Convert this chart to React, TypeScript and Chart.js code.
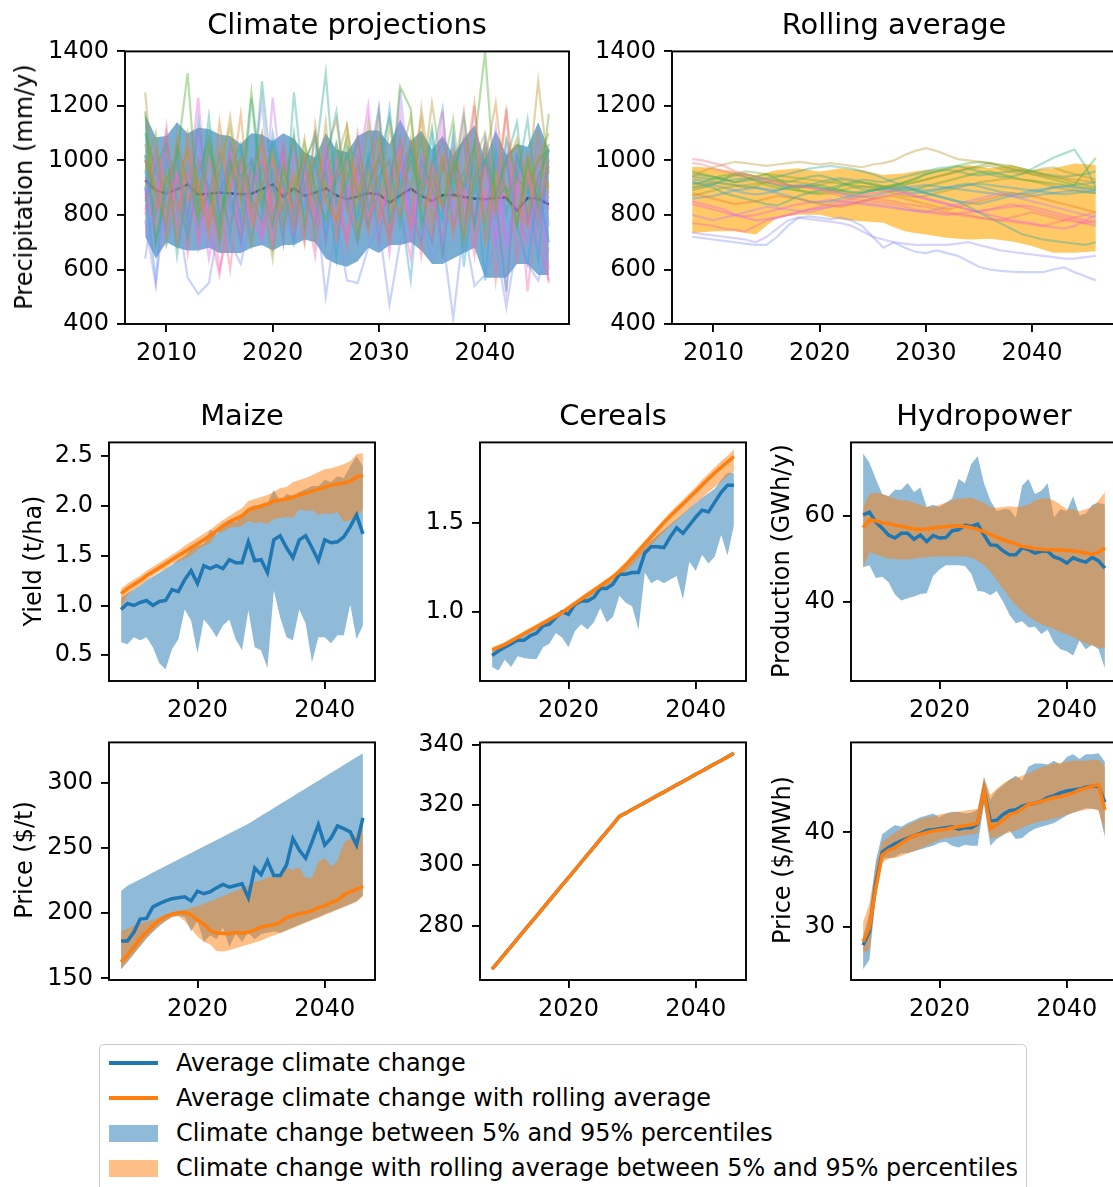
import React, { useEffect, useRef } from "react";
import { Chart, registerables } from "chart.js";

Chart.register(...registerables);

const FONT = '"DejaVu Sans", sans-serif';

// ---------- x values ----------
const years = [2008, 2009, 2010, 2011, 2012, 2013, 2014, 2015, 2016, 2017, 2018, 2019, 2020, 2021, 2022, 2023, 2024, 2025, 2026, 2027, 2028, 2029, 2030, 2031, 2032, 2033, 2034, 2035, 2036, 2037, 2038, 2039, 2040, 2041, 2042, 2043, 2044, 2045, 2046];

// ---------- tick labels ----------
const yearTicksTop = [2010, 2020, 2030, 2040];
const yearTicksBottom = [2020, 2040];
const precipTicks = [400, 600, 800, 1000, 1200, 1400];
const maizeYieldTicks = [0.5, 1.0, 1.5, 2.0, 2.5];
const cerealYieldTicks = [1.0, 1.5];
const hydroProdTicks = [40, 60];
const maizePriceTicks = [150, 200, 250, 300];
const cerealPriceTicks = [280, 300, 320, 340];
const hydroPriceTicks = [30, 40];

// ---------- climate projections (precipitation, mm/y) ----------
const projection01 = [880, 760, 1050, 820, 950, 700, 1000, 860, 600, 940, 780, 1080, 700, 900, 820, 1010, 750, 880, 960, 680, 1050, 790, 870, 720, 1000, 900, 650, 980, 830, 760, 1100, 700, 890, 800, 1190, 620, 950, 780, 1010];
const projection02 = [1000, 900, 780, 1090, 850, 930, 720, 1050, 880, 1170, 760, 900, 1010, 820, 950, 700, 1130, 860, 780, 1000, 920, 740, 1060, 880, 800, 1080, 940, 720, 1020, 860, 950, 1210, 780, 900, 1180, 840, 760, 1020, 880];
const projection03 = [1250, 820, 960, 700, 1040, 880, 760, 990, 1120, 850, 690, 960, 1040, 760, 900, 1080, 820, 1140, 700, 1120, 860, 960, 780, 1130, 880, 760, 1190, 900, 830, 1000, 720, 940, 1060, 820, 980, 1080, 900, 1290, 950];
const projection04 = [960, 1100, 700, 900, 1040, 780, 1070, 690, 940, 1010, 820, 880, 640, 990, 760, 900, 1010, 850, 780, 960, 820, 1140, 870, 700, 1000, 1160, 820, 880, 1010, 740, 920, 1060, 700, 960, 880, 780, 1020, 860, 920];
const projection05 = [1180, 700, 930, 1010, 1320, 800, 880, 720, 1000, 860, 1250, 900, 760, 980, 820, 1060, 900, 780, 950, 1080, 720, 900, 1010, 850, 1270, 1190, 760, 950, 840, 1000, 700, 1060, 1400, 860, 900, 760, 1000, 840, 1170];
const projection06 = [1000, 880, 760, 1060, 920, 840, 1160, 780, 960, 1060, 840, 1290, 900, 820, 1100, 760, 1000, 1320, 840, 920, 1080, 820, 940, 1000, 760, 1060, 900, 1120, 820, 960, 1080, 760, 1020, 880, 1000, 1140, 780, 940, 1040];
const projection07 = [850, 980, 1060, 650, 920, 790, 1040, 880, 1000, 780, 1230, 850, 960, 700, 1250, 880, 760, 1000, 1180, 840, 700, 980, 1190, 780, 880, 1000, 850, 1090, 640, 1000, 900, 1060, 760, 1040, 880, 930, 1150, 800, 1000];
const projection08 = [1020, 700, 880, 1000, 760, 1150, 840, 960, 720, 1040, 860, 780, 1100, 920, 700, 1000, 850, 960, 640, 1050, 1010, 760, 880, 1190, 840, 560, 1000, 900, 780, 1100, 610, 940, 1000, 850, 520, 1010, 900, 760, 980];
const projection09 = [900, 560, 1000, 860, 720, 940, 1080, 800, 880, 700, 1000, 900, 1060, 760, 900, 820, 1090, 700, 960, 860, 780, 1010, 860, 720, 940, 1060, 800, 700, 1000, 880, 960, 760, 1080, 860, 1010, 760, 620, 900, 700];
const projection10 = [640, 900, 690, 820, 570, 510, 550, 780, 700, 620, 800, 860, 760, 820, 700, 740, 880, 500, 780, 560, 550, 680, 760, 470, 700, 820, 780, 640, 720, 420, 760, 540, 580, 700, 460, 700, 620, 560, 680];
const projection11 = [780, 540, 900, 760, 1040, 680, 880, 960, 760, 1010, 820, 700, 1230, 880, 770, 930, 800, 1010, 720, 940, 860, 780, 1010, 880, 1180, 760, 900, 820, 1100, 770, 900, 1010, 840, 1120, 660, 900, 780, 980, 600];
const projection12 = [860, 1000, 720, 950, 800, 1100, 760, 880, 1020, 690, 900, 1000, 800, 1060, 720, 900, 780, 1040, 840, 700, 940, 1200, 780, 900, 1060, 720, 960, 880, 700, 1010, 850, 790, 1060, 700, 1010, 820, 700, 940, 820];
const projection13 = [940, 820, 1120, 700, 880, 1230, 760, 580, 900, 1000, 780, 720, 960, 700, 1020, 860, 650, 980, 780, 900, 700, 880, 1190, 720, 830, 640, 1020, 920, 660, 1000, 780, 1200, 700, 880, 520, 920, 1020, 700, 560];
const projection14 = [800, 1050, 870, 940, 660, 1000, 880, 700, 1050, 860, 950, 720, 880, 1020, 760, 960, 860, 700, 1000, 820, 1100, 860, 700, 1000, 900, 780, 1000, 840, 1180, 720, 900, 650, 980, 860, 880, 1000, 520, 860, 550];
const projection15 = [1020, 880, 940, 760, 1100, 900, 800, 1140, 860, 720, 980, 1050, 820, 900, 1080, 760, 940, 1020, 1150, 860, 740, 1000, 920, 820, 1080, 960, 1150, 780, 900, 1040, 880, 760, 1000, 1210, 860, 940, 800, 1100, 900];
const projection16 = [900, 1040, 820, 980, 700, 960, 1080, 880, 760, 1000, 900, 1100, 780, 960, 880, 1020, 700, 940, 1060, 820, 980, 880, 1150, 760, 1000, 900, 1080, 820, 960, 1150, 780, 920, 1040, 860, 1000, 760, 980, 900, 1060];
const projection17 = [1100, 960, 880, 1040, 800, 1000, 900, 760, 1060, 940, 1000, 820, 1060, 900, 760, 980, 1100, 860, 920, 1020, 880, 760, 1000, 1160, 900, 1040, 860, 980, 1070, 900, 1160, 880, 1000, 800, 1080, 940, 880, 1000, 1040];
const projection18 = [960, 800, 1060, 900, 980, 760, 880, 1020, 820, 940, 700, 980, 880, 1040, 800, 900, 1000, 720, 1060, 900, 800, 1020, 700, 940, 1080, 820, 700, 1000, 1190, 760, 900, 980, 560, 1000, 800, 1020, 900, 640, 1040];
const projection19 = [820, 960, 760, 900, 1000, 700, 940, 820, 1060, 760, 900, 1220, 760, 920, 860, 700, 980, 820, 760, 1000, 880, 720, 960, 820, 1260, 880, 700, 940, 820, 1080, 760, 960, 860, 700, 1060, 820, 940, 1080, 760];
const projection20 = [900, 700, 840, 1000, 760, 920, 640, 880, 980, 760, 1000, 880, 680, 1000, 820, 920, 760, 1040, 700, 880, 960, 760, 900, 660, 1000, 760, 880, 700, 1000, 840, 720, 960, 820, 1000, 700, 900, 760, 880, 700];
const projection21 = [1000, 860, 760, 940, 1040, 820, 900, 600, 760, 980, 860, 760, 1000, 880, 720, 940, 800, 980, 860, 720, 1000, 900, 780, 940, 1040, 760, 880, 1000, 820, 940, 1180, 780, 1000, 560, 900, 1020, 760, 940, 860];
const projection22 = [1060, 900, 1100, 820, 960, 880, 1060, 920, 1160, 880, 960, 1000, 860, 1060, 900, 1000, 1080, 900, 1000, 1130, 880, 1000, 1080, 900, 1040, 1000, 900, 1210, 960, 1040, 900, 1000, 1100, 900, 1000, 1060, 920, 1000, 1100];
const projectionMean = [928, 890, 878, 895, 912, 875, 878, 882, 880, 876, 878, 895, 912, 868, 898, 870, 882, 898, 872, 858, 868, 880, 876, 845, 872, 896, 870, 852, 872, 874, 866, 860, 858, 862, 864, 815, 862, 860, 838];
const projectionUpper = [1170, 1085, 1090, 1140, 1100, 1120, 1115, 1095, 1090, 1060, 1100, 1095, 1070, 1100, 1080, 1030, 1010, 1100, 1040, 1030, 1090, 1110, 1110, 1060, 1150, 1070, 1110, 1040, 1090, 1020, 1080, 1130, 1000, 1110, 1020, 1060, 1050, 1140, 1040];
const projectionLower = [720, 640, 700, 680, 670, 670, 680, 660, 660, 660, 680, 690, 670, 690, 690, 710, 700, 640, 620, 610, 630, 680, 660, 690, 690, 700, 670, 620, 620, 640, 660, 680, 570, 570, 570, 620, 620, 580, 580];

// ---------- rolling average projections ----------
const rolling01 = [1005, 1000, 990, 980, 960, 950, 940, 930, 920, 910, 905, 900, 895, 890, 880, 875, 870, 860, 855, 850, 840, 835, 830, 820, 810, 805, 800, 790, 785, 780, 790, 800, 810, 800, 790, 780, 775, 770, 780];
const rolling02 = [880, 870, 860, 850, 840, 845, 850, 860, 870, 865, 860, 850, 840, 835, 830, 840, 850, 860, 865, 870, 860, 850, 840, 830, 820, 830, 840, 850, 860, 870, 880, 875, 870, 860, 850, 840, 830, 820, 810];
const rolling03 = [940, 960, 975, 985, 995, 990, 985, 980, 985, 990, 995, 990, 985, 990, 985, 980, 975, 985, 990, 1000, 1020, 1035, 1045, 1035, 1020, 1005, 1000, 995, 990, 980, 970, 960, 950, 945, 940, 935, 930, 925, 920];
const rolling04 = [900, 910, 920, 915, 910, 900, 905, 920, 930, 925, 920, 915, 910, 920, 930, 925, 920, 910, 905, 900, 910, 920, 930, 940, 950, 960, 970, 975, 980, 970, 960, 950, 960, 970, 975, 960, 950, 940, 930];
const rolling05 = [960, 950, 940, 930, 920, 930, 940, 950, 930, 910, 900, 905, 910, 900, 890, 880, 885, 890, 900, 910, 920, 930, 950, 960, 970, 980, 990, 995, 990, 980, 970, 960, 950, 940, 930, 920, 910, 960, 1010];
const rolling06 = [920, 910, 900, 880, 870, 860, 850, 840, 835, 850, 870, 880, 890, 900, 910, 920, 930, 925, 920, 930, 940, 950, 960, 970, 975, 980, 970, 960, 950, 940, 940, 950, 970, 990, 1010, 1025, 1040, 980, 900];
const rolling07 = [950, 945, 940, 930, 920, 925, 930, 935, 940, 950, 960, 970, 975, 980, 975, 970, 960, 950, 935, 920, 905, 890, 880, 870, 860, 850, 830, 810, 790, 770, 750, 730, 720, 710, 705, 700, 695, 690, 700];
const rolling08 = [930, 925, 920, 915, 910, 905, 900, 895, 890, 900, 910, 905, 900, 895, 890, 885, 880, 890, 900, 905, 900, 895, 890, 895, 900, 905, 910, 915, 910, 905, 900, 895, 890, 885, 880, 875, 880, 885, 890];
const rolling09 = [860, 865, 870, 880, 890, 895, 900, 890, 880, 870, 860, 850, 845, 850, 860, 870, 880, 890, 895, 900, 895, 890, 880, 870, 860, 850, 845, 840, 850, 860, 870, 880, 890, 895, 900, 905, 900, 895, 890];
const rolling10 = [720, 715, 710, 705, 700, 695, 690, 690, 720, 760, 790, 795, 790, 785, 790, 780, 760, 720, 680, 700, 680, 665, 660, 670, 660, 650, 630, 610, 600, 595, 592, 590, 590, 590, 600, 608, 590, 575, 560];
const rolling11 = [735, 730, 725, 720, 715, 710, 700, 720, 750, 780, 790, 785, 780, 775, 770, 760, 740, 720, 710, 700, 695, 690, 690, 690, 690, 695, 700, 690, 680, 670, 665, 660, 655, 650, 645, 640, 640, 645, 650];
const rolling12 = [800, 790, 780, 790, 800, 810, 820, 830, 825, 820, 815, 810, 820, 830, 840, 850, 845, 840, 835, 830, 820, 815, 810, 820, 830, 840, 850, 860, 870, 880, 870, 860, 850, 840, 830, 820, 810, 800, 790];
const rolling13 = [850, 840, 830, 820, 800, 790, 780, 785, 790, 800, 810, 820, 825, 830, 835, 840, 850, 860, 870, 875, 880, 870, 860, 850, 840, 830, 820, 810, 800, 790, 780, 775, 770, 760, 755, 750, 760, 780, 800];
const rolling14 = [770, 765, 760, 750, 745, 740, 760, 780, 790, 800, 810, 820, 830, 840, 850, 860, 870, 880, 885, 890, 880, 870, 860, 850, 840, 830, 820, 810, 820, 830, 840, 830, 820, 810, 800, 790, 780, 770, 760];
const rolling15 = [990, 985, 970, 960, 950, 940, 930, 920, 915, 910, 905, 900, 890, 880, 870, 860, 855, 850, 845, 840, 830, 820, 815, 810, 805, 800, 795, 790, 785, 780, 775, 770, 765, 760, 770, 780, 790, 800, 810];
const rolling16 = [890, 900, 910, 930, 950, 960, 955, 950, 945, 940, 935, 930, 925, 920, 915, 910, 905, 900, 905, 910, 915, 920, 930, 940, 950, 960, 970, 980, 990, 985, 980, 970, 960, 950, 940, 930, 920, 910, 900];
const rolling17 = [940, 935, 930, 935, 945, 950, 940, 930, 925, 920, 930, 940, 945, 935, 920, 905, 895, 890, 895, 905, 920, 935, 950, 960, 965, 960, 950, 945, 950, 955, 960, 965, 960, 950, 945, 940, 945, 950, 960];
const rolling18 = [910, 920, 935, 945, 950, 940, 925, 910, 900, 895, 890, 885, 880, 890, 905, 915, 920, 915, 905, 895, 890, 895, 905, 915, 925, 935, 945, 955, 960, 950, 940, 930, 925, 920, 915, 910, 905, 900, 895];
const rolling19 = [900, 905, 915, 925, 930, 935, 930, 920, 910, 905, 900, 910, 920, 930, 935, 930, 920, 910, 900, 890, 885, 880, 885, 890, 900, 910, 915, 905, 895, 885, 880, 875, 880, 890, 900, 905, 910, 915, 920];
const rolling20 = [870, 880, 890, 900, 905, 910, 915, 920, 910, 900, 890, 880, 875, 880, 890, 900, 905, 900, 890, 880, 870, 865, 870, 880, 890, 900, 910, 920, 925, 930, 935, 930, 925, 915, 905, 895, 890, 885, 880];
const rolling21 = [840, 830, 820, 810, 800, 795, 800, 810, 820, 830, 840, 845, 850, 855, 850, 845, 840, 835, 830, 825, 820, 815, 810, 805, 800, 805, 810, 815, 820, 825, 830, 835, 830, 820, 810, 800, 790, 780, 770];
const rolling22 = [920, 915, 910, 900, 890, 880, 875, 880, 890, 900, 905, 910, 900, 890, 880, 870, 865, 870, 880, 890, 900, 905, 910, 905, 900, 895, 890, 885, 880, 875, 870, 865, 870, 875, 880, 885, 890, 885, 880];
const rollingUpper = [977, 975, 971, 965, 959, 952, 947, 955, 965, 968, 971, 965, 959, 965, 971, 968, 965, 955, 947, 950, 953, 960, 965, 968, 971, 978, 983, 977, 971, 977, 983, 974, 965, 968, 971, 980, 989, 986, 983];
const rollingLower = [734, 737, 740, 740, 740, 734, 728, 760, 789, 795, 801, 801, 801, 792, 783, 780, 777, 774, 771, 755, 740, 734, 728, 722, 716, 713, 710, 711, 713, 708, 704, 695, 686, 673, 661, 661, 661, 664, 667];

// ---------- maize yield (t/ha) ----------
const maizeYieldMean = [0.96, 1.02, 1.0, 1.03, 1.05, 1.0, 1.04, 1.05, 1.16, 1.14, 1.26, 1.35, 1.22, 1.4, 1.37, 1.4, 1.37, 1.46, 1.43, 1.43, 1.64, 1.45, 1.46, 1.33, 1.66, 1.7, 1.58, 1.48, 1.66, 1.7, 1.58, 1.45, 1.66, 1.63, 1.64, 1.69, 1.79, 1.91, 1.72];
const maizeYieldRolling = [1.12, 1.17, 1.21, 1.25, 1.3, 1.34, 1.38, 1.42, 1.46, 1.5, 1.54, 1.58, 1.62, 1.66, 1.7, 1.75, 1.8, 1.84, 1.87, 1.9, 1.96, 1.98, 2.0, 2.02, 2.05, 2.06, 2.07, 2.09, 2.11, 2.13, 2.15, 2.17, 2.19, 2.21, 2.22, 2.23, 2.25, 2.29, 2.31];
const maizeYieldUpper = [1.08, 1.12, 1.16, 1.2, 1.25, 1.29, 1.33, 1.37, 1.41, 1.46, 1.5, 1.57, 1.6, 1.62, 1.76, 1.72, 1.79, 1.86, 1.84, 1.92, 1.98, 2.01, 2.0, 2.03, 2.16, 2.05, 2.12, 2.1, 2.14, 2.17, 2.2, 2.2, 2.26, 2.24, 2.3, 2.28, 2.4, 2.5, 2.4];
const maizeYieldLower = [0.63, 0.61, 0.68, 0.65, 0.68, 0.58, 0.42, 0.36, 0.56, 0.66, 0.96, 0.85, 0.52, 0.86, 0.78, 0.68, 0.8, 0.86, 0.66, 0.55, 0.95, 0.58, 0.55, 0.37, 1.15, 0.88, 0.68, 0.65, 0.96, 0.82, 0.43, 0.68, 0.68, 0.62, 0.7, 0.7, 1.01, 0.66, 0.8];
const maizeYieldRollUpper = [1.17, 1.22, 1.26, 1.3, 1.35, 1.39, 1.43, 1.47, 1.51, 1.55, 1.6, 1.64, 1.68, 1.72, 1.76, 1.81, 1.86, 1.9, 1.94, 1.98, 2.05, 2.07, 2.09, 2.11, 2.14, 2.18, 2.19, 2.24, 2.26, 2.28, 2.31, 2.34, 2.37, 2.38, 2.4, 2.42, 2.45, 2.52, 2.53];
const maizeYieldRollLower = [0.97, 1.1, 1.16, 1.2, 1.25, 1.3, 1.34, 1.37, 1.42, 1.44, 1.47, 1.5, 1.56, 1.6, 1.62, 1.73, 1.74, 1.78, 1.79, 1.8, 1.85, 1.83, 1.84, 1.82, 1.87, 1.88, 1.89, 1.88, 1.97, 1.95, 1.96, 1.91, 1.93, 1.92, 1.94, 1.84, 1.86, 1.9, 1.96];

// ---------- cereals yield (t/ha) ----------
const cerealYieldMean = [0.754, 0.78, 0.8, 0.82, 0.84, 0.84, 0.865, 0.88, 0.92, 0.93, 0.967, 1.0, 0.985, 1.04, 1.06, 1.06, 1.08, 1.13, 1.13, 1.155, 1.21, 1.21, 1.22, 1.22, 1.33, 1.365, 1.365, 1.36, 1.42, 1.47, 1.44, 1.485, 1.53, 1.57, 1.56, 1.615, 1.67, 1.71, 1.71];
const cerealYieldRolling = [0.785, 0.8, 0.815, 0.835, 0.855, 0.875, 0.895, 0.915, 0.935, 0.955, 0.975, 0.995, 1.02, 1.045, 1.07, 1.095, 1.12, 1.145, 1.17, 1.195, 1.225, 1.26, 1.3, 1.34, 1.38, 1.42, 1.46, 1.5, 1.535, 1.57, 1.605, 1.64, 1.675, 1.71, 1.745, 1.78, 1.81, 1.84, 1.87];
const cerealYieldUpper = [0.78, 0.795, 0.81, 0.83, 0.85, 0.87, 0.89, 0.91, 0.93, 0.95, 0.97, 0.99, 1.01, 1.04, 1.065, 1.09, 1.11, 1.135, 1.16, 1.18, 1.21, 1.25, 1.29, 1.33, 1.37, 1.4, 1.43, 1.46, 1.49, 1.52, 1.55, 1.58, 1.61, 1.64, 1.665, 1.69, 1.74, 1.78, 1.78];
const cerealYieldLower = [0.69, 0.67, 0.73, 0.69, 0.75, 0.74, 0.735, 0.735, 0.8, 0.82, 0.88, 0.855, 0.8, 0.89, 0.93, 0.9, 0.94, 1.02, 0.94, 0.97, 1.09, 1.05, 1.03, 0.9, 1.22, 1.16, 1.18, 1.16, 1.18, 1.2, 1.07, 1.28, 1.23, 1.32, 1.27, 1.31, 1.43, 1.315, 1.485];
const cerealYieldRollUpper = [0.8, 0.815, 0.83, 0.85, 0.87, 0.89, 0.91, 0.93, 0.95, 0.97, 0.99, 1.01, 1.035, 1.06, 1.085, 1.11, 1.135, 1.16, 1.185, 1.21, 1.245, 1.28, 1.32, 1.36, 1.4, 1.44, 1.48, 1.52, 1.56, 1.595, 1.63, 1.665, 1.7, 1.74, 1.775, 1.81, 1.845, 1.875, 1.91];
const cerealYieldRollLower = [0.775, 0.79, 0.805, 0.825, 0.845, 0.865, 0.885, 0.9, 0.92, 0.94, 0.96, 0.98, 1.0, 1.025, 1.05, 1.075, 1.1, 1.12, 1.145, 1.165, 1.19, 1.225, 1.26, 1.3, 1.335, 1.37, 1.41, 1.445, 1.48, 1.51, 1.545, 1.575, 1.61, 1.64, 1.67, 1.7, 1.73, 1.76, 1.79];

// ---------- hydropower production (GWh/y) ----------
const hydroProdMean = [60.2, 60.8, 58.5, 57.1, 55.5, 54.8, 55.9, 55.9, 54.5, 55.5, 54.0, 55.4, 54.8, 54.9, 56.5, 56.7, 57.8, 57.5, 58.0, 55.5, 53.2, 53.1, 51.8, 50.9, 50.9, 52.5, 52.1, 51.3, 51.7, 51.7, 50.4, 49.9, 49.0, 50.2, 49.6, 49.2, 50.3, 49.5, 47.8];
const hydroProdRolling = [57.2, 59.0, 58.8, 58.3, 58.2, 57.8, 57.5, 57.2, 56.9, 56.8, 56.9, 57.1, 57.3, 57.4, 57.6, 57.6, 57.5, 57.2, 56.8, 56.3, 55.6, 55.0, 54.4, 53.9, 53.4, 52.9, 52.6, 52.3, 52.2, 52.1, 52.1, 52.0, 51.9, 51.8, 51.6, 51.3, 51.0, 51.5, 52.5];
const hydroProdUpper = [74.4, 72.3, 68.5, 65.0, 64.5, 66.0, 66.0, 67.6, 65.5, 66.5, 62.0, 62.5, 62.0, 63.0, 64.0, 68.5, 67.5, 72.0, 73.8, 67.5, 63.5, 61.0, 61.5, 61.5, 59.5, 67.0, 68.5, 65.0, 65.8, 67.5, 59.5, 61.5, 61.0, 64.5, 60.0, 60.5, 62.5, 63.0, 62.5];
const hydroProdLower = [48.0, 48.5, 45.5, 45.8, 44.5, 41.7, 40.3, 40.8, 41.2, 41.8, 42.0, 46.0, 47.5, 48.5, 48.5, 48.5, 48.3, 46.5, 42.5, 42.3, 41.5, 42.5, 40.0, 37.0, 35.0, 35.5, 34.0, 34.2, 32.5, 33.5, 30.5, 29.0, 28.5, 27.5, 31.0, 29.0, 30.0, 29.0, 24.5];
const hydroProdRollUpper = [62.0, 65.0, 65.3, 65.0, 64.5, 64.0, 63.5, 63.5, 63.0, 62.5, 62.0, 62.0, 62.5, 63.0, 63.5, 64.0, 64.0, 64.2, 63.5, 63.0, 62.0, 61.8, 62.0, 62.2, 62.0, 62.2, 62.5, 63.5, 64.0, 64.0, 63.5, 62.5, 61.5, 61.5, 61.0, 61.5, 62.0, 63.5, 65.5];
const hydroProdRollLower = [48.0, 51.5, 51.0, 50.5, 50.0, 50.0, 49.8, 49.8, 50.0, 50.2, 50.3, 50.5, 50.5, 50.5, 50.5, 50.5, 50.5, 50.3, 49.5, 48.5, 47.0, 45.0, 43.0, 41.0, 39.2, 37.8, 36.6, 35.6, 34.8, 34.2, 33.6, 33.0, 32.4, 31.8, 31.0, 30.3, 29.8, 29.3, 29.3];

// ---------- maize price ($/t) ----------
const maizePriceMean = [178.5, 178.5, 185.3, 195.4, 195.9, 204.7, 207.2, 209.3, 211.0, 211.8, 212.5, 209.3, 216.8, 214.8, 216.3, 219.3, 221.9, 219.8, 221.1, 222.4, 211.8, 234.5, 229.4, 240.0, 228.7, 228.7, 237.0, 257.1, 248.3, 242.0, 254.6, 267.7, 252.1, 257.6, 266.7, 264.7, 262.2, 252.1, 273.0];
const maizePriceRolling = [162.6, 167.6, 173.9, 180.3, 185.3, 190.3, 194.6, 197.4, 199.2, 200.4, 200.4, 198.7, 194.6, 191.6, 186.6, 184.6, 184.6, 184.1, 185.3, 184.6, 185.3, 187.1, 189.1, 190.3, 191.1, 192.8, 196.6, 197.9, 199.6, 200.4, 201.7, 204.2, 205.5, 208.0, 209.8, 213.8, 216.3, 218.1, 220.6];
const maizePriceUpper = [217, 221, 223.5, 226, 228.5, 231, 233.5, 236, 238.5, 241, 243.5, 246, 248.5, 251, 253.5, 256, 258.5, 261, 263.5, 266, 268.5, 271.5, 274.5, 277.5, 280.5, 283.5, 286.5, 289.5, 292.5, 295.5, 298.5, 301.5, 304.5, 307.5, 310.5, 313.5, 316.5, 319.5, 322.5];
const maizePriceLower = [157, 162.5, 168.5, 174.5, 180.5, 185.5, 190, 194, 197, 198, 197, 186, 194, 178, 183, 180, 189, 174, 184, 178, 185, 180, 184, 185, 186, 185, 187, 189, 191, 193, 195, 197, 199, 201, 203, 205, 207, 209, 213.5];
const maizePriceRollUpper = [186, 188, 190, 192, 193.5, 195, 196.5, 198, 199.5, 201, 202.5, 204, 205.5, 207, 209, 211, 213, 215, 217, 219, 221, 224, 225, 227, 229, 230, 234.5, 233, 235, 227, 227, 239.5, 242, 235.5, 240, 253.5, 257, 260, 266];
const maizePriceRollLower = [157, 163, 169, 175, 181, 186, 190.5, 194, 197, 197.5, 194, 188, 182, 178, 176, 171, 170.5, 171.5, 173, 174.5, 176, 177.5, 179, 181, 183, 184.5, 186.5, 188.5, 190.5, 192.5, 194.5, 196.5, 198.5, 200.5, 202.5, 204.5, 206.5, 208.5, 213];

// ---------- cereals price ($/t) ----------
const cerealPrice = [265.5, 268.0, 270.6, 273.1, 275.6, 278.2, 280.7, 283.2, 285.8, 288.3, 290.8, 293.4, 295.9, 298.4, 301.0, 303.5, 306.0, 308.6, 311.1, 313.6, 316.2, 317.3, 318.5, 319.7, 320.8, 322.0, 323.2, 324.3, 325.5, 326.7, 327.8, 329.0, 330.2, 331.3, 332.5, 333.7, 334.8, 336.0, 337.2];

// ---------- hydropower price ($/MWh) ----------
const hydroPriceMean = [28.05, 29.5, 34.6, 37.9, 38.4, 38.8, 39.1, 39.4, 39.65, 39.9, 40.2, 40.3, 40.4, 40.5, 40.6, 40.35, 40.5, 40.5, 40.9, 44.4, 41.2, 41.3, 41.9, 42.3, 42.4, 42.8, 43.0, 43.1, 43.3, 43.7, 43.9, 44.2, 44.4, 44.5, 44.6, 44.8, 44.9, 44.9, 43.2];
const hydroPriceRolling = [28.4, 29.9, 34.1, 37.6, 38.1, 38.4, 38.85, 39.3, 39.65, 39.8, 40.0, 40.15, 40.25, 40.35, 40.5, 40.6, 40.7, 40.8, 41.0, 44.4, 40.4, 40.85, 41.3, 41.9, 42.1, 42.5, 43.0, 43.1, 43.3, 43.5, 43.7, 43.8, 44.0, 44.2, 44.5, 44.7, 44.9, 45.1, 42.4];
const hydroPriceUpper = [29.0, 31.5, 37.0, 39.8, 40.3, 40.8, 40.6, 41.0, 41.3, 41.6, 41.8, 42.0, 41.6, 42.0, 42.2, 42.2, 42.0, 42.1, 42.4, 45.9, 43.5, 44.5, 45.0, 45.6, 46.0, 45.5, 47.0, 47.3, 47.3, 47.2, 47.6, 47.2, 48.0, 48.3, 47.8, 48.3, 48.3, 48.4, 47.5];
const hydroPriceLower = [25.5, 26.5, 33.5, 37.2, 37.3, 37.4, 37.8, 37.8, 38.0, 38.2, 38.4, 38.6, 38.9, 39.0, 38.6, 38.4, 38.7, 38.6, 38.6, 43.0, 38.6, 39.3, 39.7, 40.2, 39.3, 39.4, 40.0, 40.4, 40.6, 40.8, 41.0, 41.4, 41.8, 42.1, 42.3, 42.6, 42.5, 42.4, 39.5];
const hydroPriceRollUpper = [30.5, 32.5, 36.5, 39.0, 39.5, 40.0, 40.4, 40.8, 41.1, 41.4, 41.6, 41.7, 41.9, 42.0, 42.1, 42.2, 42.3, 42.4, 42.5, 45.8, 44.0, 44.6, 45.2, 45.6, 45.8, 46.0, 46.3, 46.6, 46.9, 47.1, 47.3, 47.4, 47.5, 47.6, 47.6, 47.6, 47.7, 47.7, 47.0];
const hydroPriceRollLower = [27.2, 27.5, 33.0, 36.8, 37.2, 37.3, 37.5, 37.8, 38.0, 38.3, 38.6, 38.9, 39.2, 39.4, 39.5, 39.6, 39.7, 39.8, 39.9, 43.2, 39.3, 39.5, 39.8, 40.0, 40.2, 40.5, 40.8, 41.0, 41.2, 41.3, 41.5, 41.6, 41.9, 42.1, 42.3, 42.4, 42.5, 42.3, 40.0];

// ---------- groups & colours ----------
const projections = [projection01, projection02, projection03, projection04, projection05, projection06, projection07, projection08, projection09, projection10, projection11, projection12, projection13, projection14, projection15, projection16, projection17, projection18, projection19, projection20, projection21, projection22];
const projectionColors = ["#f77189", "#e68332", "#bb9832", "#97a431", "#50b131", "#34ae91", "#36ada4", "#38a9c5", "#3ba3ec", "#8197f4", "#c77af4", "#f45deb", "#f565cc", "#f66bad", "#dc8932", "#77ab31", "#33b07a", "#3aa5dc", "#a48cf4", "#e867f4", "#f7758f", "#ae9d31"];
const rollings = [rolling01, rolling02, rolling03, rolling04, rolling05, rolling06, rolling07, rolling08, rolling09, rolling10, rolling11, rolling12, rolling13, rolling14, rolling15, rolling16, rolling17, rolling18, rolling19, rolling20, rolling21, rolling22];
const rollingColors = ["#f77189", "#e68332", "#bb9832", "#97a431", "#50b131", "#34ae91", "#36ada4", "#38a9c5", "#3ba3ec", "#8197f4", "#a38ff4", "#c77af4", "#f45deb", "#f66bad", "#f7758f", "#77ab31", "#34ae91", "#50b131", "#38a9c5", "#97a431", "#f565cc", "#3ba3ec"];

const BLUE = "#1f77b4";
const ORANGE = "#ff7f0e";
const BLUE_BAND = "rgba(31,119,180,0.5)";
const ORANGE_BAND = "rgba(255,127,14,0.5)";

function alpha(hex: string, a: number) {
  const n = parseInt(hex.slice(1), 16);
  return `rgba(${(n >> 16) & 255},${(n >> 8) & 255},${n & 255},${a})`;
}

const pts = (arr: number[]) => years.map((x, i) => ({ x, y: arr[i] }));

function lineDs(arr: number[], color: string, width: number, order: number) {
  return { data: pts(arr), borderColor: color, borderWidth: width, pointRadius: 0, fill: false, order, tension: 0 };
}
function bandDs(list: any[], lower: number[], upper: number[], color: string, order: number) {
  list.push({ data: pts(lower), borderWidth: 0, borderColor: "rgba(0,0,0,0)", pointRadius: 0, fill: false, order });
  list.push({ data: pts(upper), borderWidth: 0, borderColor: "rgba(0,0,0,0)", pointRadius: 0, fill: "-1", backgroundColor: color, order });
}

function buildImpact(mean: number[], roll: number[], lo: number[], hi: number[], rlo: number[], rhi: number[]) {
  return () => {
    const ds: any[] = [];
    bandDs(ds, lo, hi, BLUE_BAND, 10);
    bandDs(ds, rlo, rhi, ORANGE_BAND, 9);
    ds.push(lineDs(mean, BLUE, 3.5, 2));
    ds.push(lineDs(roll, ORANGE, 3.5, 1));
    return ds;
  };
}

const buildProjections = () => {
  const ds: any[] = [];
  bandDs(ds, projectionLower, projectionUpper, "rgba(31,119,180,0.6)", 30);
  ds.push(lineDs(projectionMean, "rgba(20,70,120,0.8)", 2.5, 20));
  projections.forEach((p, i) => ds.push(lineDs(p, alpha(projectionColors[i], 0.42), 2.2, 10)));
  return ds;
};

const buildRolling = () => {
  const ds: any[] = [];
  bandDs(ds, rollingLower, rollingUpper, "rgba(255,165,0,0.6)", 30);
  rollings.forEach((p, i) => ds.push(lineDs(p, alpha(rollingColors[i], 0.4), 2.2, 10)));
  return ds;
};

const buildCerealPrice = () => [lineDs(cerealPrice, BLUE, 3.5, 2), lineDs(cerealPrice, ORANGE, 3.5, 1)];

// ---------- panel ----------
const PAD_L = 90, PAD_R = 20, PAD_T = 20, PAD_B = 50;
const XMIN = 2006.1, XMAX = 2047.9;
const TICK_SIZE = 24;

type PanelProps = {
  box: [number, number, number, number];
  yMin: number;
  yMax: number;
  yTicks: number[];
  yFmt: (v: number) => string;
  xTicks: number[];
  build: () => any[];
};

function Panel({ box, yMin, yMax, yTicks, yFmt, xTicks, build }: PanelProps) {
  const ref = useRef<HTMLCanvasElement>(null);
  const [l, t, r, b] = box;
  const W = r - l + PAD_L + PAD_R;
  const H = b - t + PAD_T + PAD_B;
  useEffect(() => {
    const frame = {
      id: "frame",
      afterDraw(chart: any) {
        const { ctx, chartArea } = chart;
        ctx.save();
        ctx.strokeStyle = "#000";
        ctx.lineWidth = 1.9;
        ctx.strokeRect(chartArea.left, chartArea.top, chartArea.right - chartArea.left, chartArea.bottom - chartArea.top);
        ctx.restore();
      },
    };
    const tickFont = { family: FONT, size: TICK_SIZE };
    const grid = { display: true, drawOnChartArea: false, drawTicks: true, tickLength: 8, color: "#000", lineWidth: 1.9, tickColor: "#000", tickWidth: 1.9 };
    const chart = new Chart(ref.current as HTMLCanvasElement, {
      type: "line",
      data: { datasets: build() },
      options: {
        responsive: false,
        animation: false,
        devicePixelRatio: 1,
        layout: { padding: { left: 0, right: PAD_R, top: PAD_T, bottom: 0 } },
        plugins: { legend: { display: false }, tooltip: { enabled: false } },
        elements: { point: { radius: 0 }, line: { tension: 0 } },
        scales: {
          x: {
            type: "linear",
            min: XMIN,
            max: XMAX,
            afterBuildTicks: (s: any) => { s.ticks = xTicks.map((v) => ({ value: v })); },
            afterFit: (s: any) => { s.height = PAD_B; },
            ticks: { font: tickFont, color: "#000", padding: 7, maxRotation: 0, autoSkip: false, callback: (v: any) => String(v) },
            grid,
            border: { display: false },
          },
          y: {
            type: "linear",
            min: yMin,
            max: yMax,
            afterBuildTicks: (s: any) => { s.ticks = yTicks.map((v) => ({ value: v })); },
            afterFit: (s: any) => { s.width = PAD_L; },
            ticks: { font: tickFont, color: "#000", padding: 8, autoSkip: false, callback: (v: any) => yFmt(Number(v)) },
            grid,
            border: { display: false },
          },
        },
      } as any,
      plugins: [frame],
    });
    return () => chart.destroy();
  }, []);
  return (
    <canvas
      ref={ref}
      width={W}
      height={H}
      style={{ position: "absolute", left: l - PAD_L, top: t - PAD_T, width: W, height: H }}
    />
  );
}

function Title({ text, cx, top }: { text: string; cx: number; top: number }) {
  return (
    <div style={{ position: "absolute", left: cx, top, transform: "translateX(-50%)", fontSize: 28.9, lineHeight: "1", whiteSpace: "nowrap", color: "#000" }}>
      {text}
    </div>
  );
}

function YLabel({ text, cx, cy }: { text: string; cx: number; cy: number }) {
  return (
    <div style={{ position: "absolute", left: cx, top: cy, transform: "translate(-50%,-50%) rotate(-90deg)", fontSize: 24, lineHeight: "1", whiteSpace: "nowrap", color: "#000" }}>
      {text}
    </div>
  );
}

const legendItems = [
  { label: "Average climate change", kind: "line", color: BLUE },
  { label: "Average climate change with rolling average", kind: "line", color: ORANGE },
  { label: "Climate change between 5% and 95% percentiles", kind: "patch", color: BLUE_BAND },
  { label: "Climate change with rolling average between 5% and 95% percentiles", kind: "patch", color: ORANGE_BAND },
];

const str = (v: number) => String(v);
const dec1 = (v: number) => v.toFixed(1);

export default function App() {
  useEffect(() => {
    document.body.style.margin = "0";
  }, []);
  return (
    <div style={{ position: "absolute", left: 0, top: 0, width: 1113, height: 1187, overflow: "hidden", background: "#fff", fontFamily: FONT }}>
      <Panel box={[125, 49, 569, 324]} yMin={400} yMax={1400} yTicks={precipTicks} yFmt={str} xTicks={yearTicksTop} build={buildProjections} />
      <Panel box={[672, 49, 1116, 324]} yMin={400} yMax={1400} yTicks={precipTicks} yFmt={str} xTicks={yearTicksTop} build={buildRolling} />

      <Panel box={[109, 440, 375, 681]} yMin={0.241} yMax={2.639} yTicks={maizeYieldTicks} yFmt={dec1} xTicks={yearTicksBottom}
        build={buildImpact(maizeYieldMean, maizeYieldRolling, maizeYieldLower, maizeYieldUpper, maizeYieldRollLower, maizeYieldRollUpper)} />
      <Panel box={[480, 440, 746, 681]} yMin={0.611} yMax={1.95} yTicks={cerealYieldTicks} yFmt={dec1} xTicks={yearTicksBottom}
        build={buildImpact(cerealYieldMean, cerealYieldRolling, cerealYieldLower, cerealYieldUpper, cerealYieldRollLower, cerealYieldRollUpper)} />
      <Panel box={[851, 440, 1117, 681]} yMin={21.6} yMax={77.0} yTicks={hydroProdTicks} yFmt={str} xTicks={yearTicksBottom}
        build={buildImpact(hydroProdMean, hydroProdRolling, hydroProdLower, hydroProdUpper, hydroProdRollLower, hydroProdRollUpper)} />

      <Panel box={[109, 740, 375, 980]} yMin={148.7} yMax={330.8} yTicks={maizePriceTicks} yFmt={str} xTicks={yearTicksBottom}
        build={buildImpact(maizePriceMean, maizePriceRolling, maizePriceLower, maizePriceUpper, maizePriceRollLower, maizePriceRollUpper)} />
      <Panel box={[480, 740, 746, 980]} yMin={261.9} yMax={340.8} yTicks={cerealPriceTicks} yFmt={str} xTicks={yearTicksBottom} build={buildCerealPrice} />
      <Panel box={[851, 740, 1117, 980]} yMin={24.35} yMax={49.55} yTicks={hydroPriceTicks} yFmt={str} xTicks={yearTicksBottom}
        build={buildImpact(hydroPriceMean, hydroPriceRolling, hydroPriceLower, hydroPriceUpper, hydroPriceRollLower, hydroPriceRollUpper)} />

      <Title text="Climate projections" cx={347} top={10} />
      <Title text="Rolling average" cx={894} top={10} />
      <Title text="Maize" cx={242} top={401} />
      <Title text="Cereals" cx={613} top={401} />
      <Title text="Hydropower" cx={984} top={401} />

      <YLabel text="Precipitation (mm/y)" cx={24} cy={186.5} />
      <YLabel text="Yield (t/ha)" cx={33} cy={560.5} />
      <YLabel text="Production (GWh/y)" cx={781} cy={560.5} />
      <YLabel text="Price ($/t)" cx={24} cy={860} />
      <YLabel text="Price ($/MWh)" cx={782} cy={860} />

      <div style={{ position: "absolute", left: 99, top: 1044, width: 928, height: 170, border: "1.5px solid #cccccc", borderRadius: 5, background: "rgba(255,255,255,0.8)", boxSizing: "border-box" }} />
      {legendItems.map((it, i) => (
        <div key={i} style={{ position: "absolute", left: 0, top: 1063 + i * 35 - 17.5, height: 35, width: 1113 }}>
          {it.kind === "line" ? (
            <div style={{ position: "absolute", left: 109, top: 15.75, width: 49, height: 3.5, background: it.color }} />
          ) : (
            <div style={{ position: "absolute", left: 109, top: 9, width: 49, height: 17, background: it.color }} />
          )}
          <div style={{ position: "absolute", left: 176, top: 0, height: 35, lineHeight: "35px", fontSize: 23.9, whiteSpace: "nowrap", color: "#000" }}>
            {it.label}
          </div>
        </div>
      ))}
    </div>
  );
}
